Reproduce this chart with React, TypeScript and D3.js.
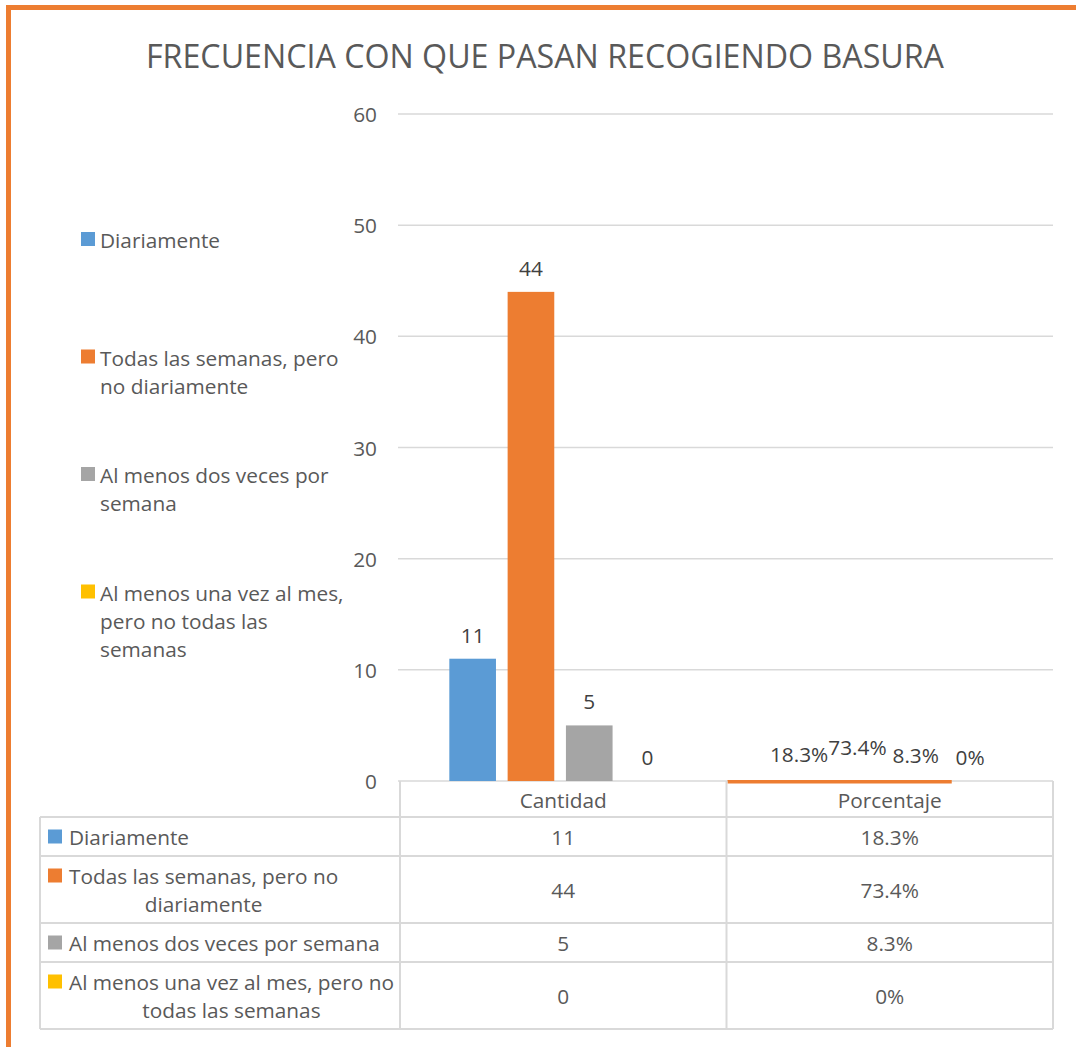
import { useEffect, useRef } from 'react';
import * as d3 from 'd3';

const title = 'FRECUENCIA CON QUE PASAN RECOGIENDO BASURA';
const categories = ['Cantidad', 'Porcentaje'];
const series = [
  'Diariamente',
  'Todas las semanas, pero no diariamente',
  'Al menos dos veces por semana',
  'Al menos una vez al mes, pero no todas las semanas',
];
const cantidad = [11, 44, 5, 0];
const porcentaje = [18.3, 73.4, 8.3, 0];
const percentLabels = ['18.3%', '73.4%', '8.3%', '0%'];
const colors = ['#5b9bd5', '#ed7d31', '#a5a5a5', '#ffc000'];
const yTicks = [0, 10, 20, 30, 40, 50, 60];

// wrapped text as Excel shows it
const legendLines = [
  ['Diariamente'],
  ['Todas las semanas, pero', 'no diariamente'],
  ['Al menos dos veces por', 'semana'],
  ['Al menos una vez al mes,', 'pero no todas las', 'semanas'],
];
const tableLines = [
  ['Diariamente'],
  ['Todas las semanas, pero no', 'diariamente'],
  ['Al menos dos veces por semana'],
  ['Al menos una vez al mes, pero no', 'todas las semanas'],
];

const FONT = '"Open Sans", sans-serif';
const TEXT = '#595959';
const GRID = '#d9d9d9';
const FS = 20.8;

export default function App() {
  const svgRef = useRef<SVGSVGElement>(null);

  useEffect(() => {
    if (!svgRef.current) return;
    const width = 1076;
    const height = 1047;
    const svg = d3.select(svgRef.current);
    svg.selectAll('*').remove();

    svg.append('rect').attr('width', width).attr('height', height).attr('fill', '#fff');

    // orange frame (runs off the right and bottom)
    svg.append('rect')
      .attr('x', 8.5).attr('y', 7.5)
      .attr('width', width + 20).attr('height', height + 20)
      .attr('fill', 'none').attr('stroke', '#ed7d31').attr('stroke-width', 5);

    svg.append('text')
      .attr('x', 545).attr('y', 55)
      .attr('text-anchor', 'middle').attr('dominant-baseline', 'central')
      .attr('font-family', FONT).attr('font-size', 32.2).attr('fill', TEXT)
      .text(title);

    const x = d3.scaleBand().domain(categories).range([400, 1053]);
    const inner = d3.scaleBand().domain(series).range([0, x.bandwidth()])
      .paddingInner(0.2).paddingOuter(0.9).align(0.47);
    const y = d3.scaleLinear().domain([0, 60]).range([781, 114]);

    // gridlines
    svg.append('g').selectAll('line').data(yTicks).enter().append('line')
      .attr('x1', 398).attr('x2', 1053)
      .attr('y1', d => y(d)).attr('y2', d => y(d))
      .attr('stroke', GRID).attr('stroke-width', 1.5);

    svg.append('g').selectAll('text').data(yTicks).enter().append('text')
      .attr('x', 377).attr('y', d => y(d))
      .attr('text-anchor', 'end').attr('dominant-baseline', 'central')
      .attr('font-family', FONT).attr('font-size', FS).attr('fill', TEXT)
      .text(d => d);

    const x0 = x('Cantidad')!;
    const x1 = x('Porcentaje')!;

    // Cantidad bars
    svg.append('g').selectAll('rect').data(cantidad).enter().append('rect')
      .attr('x', (d, i) => x0 + inner(series[i])!)
      .attr('width', inner.bandwidth())
      .attr('y', d => y(d))
      .attr('height', d => y(0) - y(d))
      .attr('fill', (d, i) => colors[i]);

    svg.append('g').selectAll('text').data(cantidad).enter().append('text')
      .attr('x', (d, i) => x0 + inner(series[i])! + inner.bandwidth() / 2)
      .attr('y', d => y(d) - 24)
      .attr('text-anchor', 'middle').attr('dominant-baseline', 'central')
      .attr('font-family', FONT).attr('font-size', FS).attr('fill', '#404040')
      .text(d => d);

    // Porcentaje: flat on the axis, Excel paints it as a thin orange strip
    svg.append('rect')
      .attr('x', x1 + 1).attr('y', y(0) - 1)
      .attr('width', inner(series[3])!)
      .attr('height', 3.5)
      .attr('fill', colors[1]);

    const lift = [3, 10, 2, 0];
    svg.append('g').selectAll('text').data(porcentaje).enter().append('text')
      .attr('x', (d, i) => x1 + inner(series[i])! + inner.bandwidth() / 2 - (i === 3 ? 4 : 0))
      .attr('y', (d, i) => y(0) - 24 - lift[i])
      .attr('text-anchor', 'middle').attr('dominant-baseline', 'central')
      .attr('font-family', FONT).attr('font-size', FS).attr('fill', '#404040')
      .text((d, i) => percentLabels[i]);

    // left legend
    const legY = d3.scaleBand().domain(series).range([226, 696]);
    legendLines.forEach((lines, i) => {
      const top = legY(series[i])!;
      svg.append('rect')
        .attr('x', 81).attr('y', top + 6).attr('width', 14).attr('height', 14)
        .attr('fill', colors[i]);
      lines.forEach((ln, j) => {
        svg.append('text')
          .attr('x', 100).attr('y', top + 14 + j * 28)
          .attr('dominant-baseline', 'central')
          .attr('font-family', FONT).attr('font-size', FS).attr('fill', TEXT)
          .text(ln);
      });
    });

    // data table
    const tbl = svg.append('g');
    const headTop = y(0);
    const headBot = 817;
    const rowH = (n: number) => 11 + 28 * n;
    const rowTops: number[] = [];
    let acc = headBot;
    tableLines.forEach(lines => { rowTops.push(acc); acc += rowH(lines.length); });
    const tableBot = acc;

    const cols = [40, x0, x1, x1 + x.bandwidth()];
    tbl.append('line').attr('x1', cols[0]).attr('x2', cols[3])
      .attr('y1', headBot).attr('y2', headBot);
    rowTops.slice(1).concat([tableBot]).forEach(t => {
      tbl.append('line').attr('x1', cols[0]).attr('x2', cols[3]).attr('y1', t).attr('y2', t);
    });
    tbl.append('line').attr('x1', cols[0]).attr('x2', cols[0]).attr('y1', headBot).attr('y2', tableBot);
    cols.slice(1).forEach(c => {
      tbl.append('line').attr('x1', c).attr('x2', c).attr('y1', headTop).attr('y2', tableBot);
    });
    tbl.selectAll('line').attr('stroke', GRID).attr('stroke-width', 2);

    categories.forEach(c => {
      tbl.append('text')
        .attr('x', x(c)! + x.bandwidth() / 2).attr('y', (headTop + headBot) / 2 + 1)
        .attr('text-anchor', 'middle').attr('dominant-baseline', 'central')
        .attr('font-family', FONT).attr('font-size', FS).attr('fill', TEXT)
        .text(c);
    });

    tableLines.forEach((lines, i) => {
      const top = rowTops[i];
      const h = rowH(lines.length);
      const first = top + h / 2 - (lines.length - 1) * 14;
      tbl.append('rect')
        .attr('x', 48).attr('y', first - 7).attr('width', 14).attr('height', 14)
        .attr('fill', colors[i]);
      const t0 = tbl.append('text')
        .attr('x', 69).attr('y', first)
        .attr('dominant-baseline', 'central')
        .attr('font-family', FONT).attr('font-size', FS).attr('fill', TEXT)
        .text(lines[0]);
      const w0 = (t0.node() as SVGTextElement).getComputedTextLength();
      lines.slice(1).forEach((ln, j) => {
        tbl.append('text')
          .attr('x', 69 + w0 / 2).attr('y', first + (j + 1) * 28)
          .attr('text-anchor', 'middle').attr('dominant-baseline', 'central')
          .attr('font-family', FONT).attr('font-size', FS).attr('fill', TEXT)
          .text(ln);
      });
      const mid = top + h / 2;
      tbl.append('text')
        .attr('x', x0 + x.bandwidth() / 2).attr('y', mid)
        .attr('text-anchor', 'middle').attr('dominant-baseline', 'central')
        .attr('font-family', FONT).attr('font-size', FS).attr('fill', TEXT)
        .text(cantidad[i]);
      tbl.append('text')
        .attr('x', x1 + x.bandwidth() / 2).attr('y', mid)
        .attr('text-anchor', 'middle').attr('dominant-baseline', 'central')
        .attr('font-family', FONT).attr('font-size', FS).attr('fill', TEXT)
        .text(percentLabels[i]);
    });
  }, []);

  return (
    <svg
      ref={svgRef}
      width={1076}
      height={1047}
      style={{ position: 'absolute', left: 0, top: 0 }}
    />
  );
}
